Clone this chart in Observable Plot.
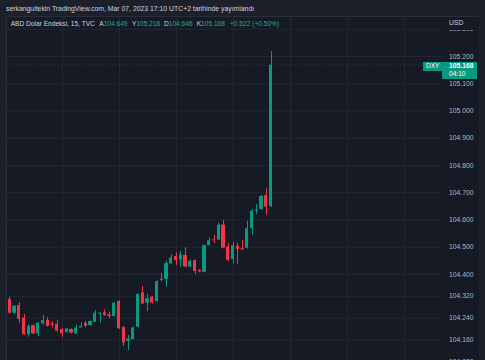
<!DOCTYPE html>
<html><head><meta charset="utf-8">
<script src="https://cdn.jsdelivr.net/npm/d3@7"></script>
<script src="https://cdn.jsdelivr.net/npm/@observablehq/plot@0.6"></script>
<style>
html,body{margin:0;padding:0;background:#1c202b;}
#wrap{position:relative;width:485px;height:360px;overflow:hidden;font-family:"Liberation Sans",Arial,sans-serif;}
#panel{position:absolute;left:6px;top:16px;width:472px;height:344px;background:#161a25;border-left:1px solid #2a2e39;border-top:1px solid #2a2e39;}
#wrap svg{position:absolute;left:0;top:0;}
.t{position:absolute;white-space:nowrap;line-height:1;}
</style></head><body><div id="wrap"><div id="panel"></div></div>
<script>
// 15-minute candles, DXY (TVC)
const open  = [104.308,104.258,104.286,104.240,104.179,104.212,104.182,104.219,104.231,104.218,104.217,104.197,104.188,104.198,104.182,104.204,104.220,104.213,104.225,104.254,104.259,104.252,104.246,104.301,104.205,104.155,104.161,104.207,104.333,104.295,104.317,104.301,104.378,104.382,104.439,104.466,104.454,104.470,104.428,104.451,104.415,104.408,104.506,104.527,104.527,104.581,104.501,104.455,104.503,104.494,104.497,104.568,104.632,104.639,104.690,104.649];
const high  = [104.316,104.286,104.297,104.253,104.215,104.215,104.224,104.249,104.241,104.228,104.231,104.202,104.202,104.200,104.215,104.223,104.228,104.229,104.268,104.262,104.270,104.262,104.297,104.303,104.209,104.176,104.205,104.328,104.356,104.327,104.319,104.376,104.405,104.449,104.472,104.478,104.485,104.499,104.454,104.454,104.417,104.508,104.534,104.543,104.588,104.598,104.515,104.518,104.515,104.525,104.596,104.637,104.656,104.690,104.714,105.218];
const low   = [104.255,104.253,104.221,104.176,104.170,104.180,104.172,104.214,104.207,104.204,104.188,104.170,104.185,104.182,104.180,104.203,104.204,104.211,104.224,104.221,104.246,104.237,104.244,104.198,104.136,104.121,104.160,104.204,104.290,104.264,104.292,104.299,104.372,104.353,104.437,104.433,104.427,104.425,104.425,104.400,104.407,104.407,104.504,104.513,104.526,104.494,104.448,104.439,104.437,104.488,104.494,104.543,104.620,104.635,104.617,104.646];
const close = [104.258,104.283,104.235,104.179,104.209,104.182,104.221,104.231,104.210,104.214,104.192,104.182,104.200,104.185,104.204,104.209,104.210,104.228,104.258,104.258,104.250,104.246,104.295,104.201,104.149,104.163,104.204,104.327,104.292,104.311,104.295,104.374,104.382,104.440,104.461,104.451,104.472,104.428,104.448,104.411,104.410,104.506,104.524,104.524,104.581,104.497,104.452,104.506,104.492,104.491,104.568,104.632,104.636,104.686,104.647,105.168];

const yTicks = [105.3,105.2,105.1,105.0,104.9,104.8,104.7,104.6,104.5,104.4,104.32,104.24,104.16,104.08];
const xGridTicks = [11,23,35,47,59,71,83];

const headerText = "serkangultekin TradingView.com, Mar 07, 2023 17:10 UTC+2 tarihinde yayımlandı";
const seriesName = "ABD Dolar Endeksi, 15, TVC";
const legendLabels = ["A","Y","D","K"];
const changeText = "+0.522 (+0.50%)";
const symbol = "DXY";
const countdown = "04:10";
const currency = "USD";

const G = "#089981", R = "#f23645";
const last = open.length - 1;
const data = open.map((o,i)=>({i, open:o, close:close[i], high:high[i], low:low[i], col: close[i]>=o ? G : R}));

const chart = Plot.plot({
  width:485, height:360, marginLeft:7, marginRight:42, marginTop:17, marginBottom:0,
  style:{background:"transparent", fontFamily:"Liberation Sans, Arial, sans-serif", overflow:"visible"},
  x:{domain:[-0.48,91.3], axis:null, round:true},
  y:{domain:[104.0844,105.3431], axis:null},
  color:{type:"identity"},
  marks:[
    Plot.gridY(yTicks,{stroke:"#232733", strokeOpacity:1}),
    Plot.gridX(xGridTicks,{stroke:"#232733", strokeOpacity:1}),
    Plot.ruleY([close[last]],{stroke:G, strokeOpacity:0.4, strokeDasharray:"1,2"}),
    Plot.ruleX(data,{x:"i", y1:"low", y2:"high", stroke:"col", strokeWidth:1}),
    Plot.rect(data,{x1:d=>d.i-0.35, x2:d=>d.i+0.35, y1:d=>Math.min(d.open,d.close), y2:d=>Math.max(d.open,d.close), fill:"col"}),
    Plot.axisY(yTicks,{anchor:"right", tickSize:0, tickPadding:5.5, tickFormat:d3.format(".3f"), fontSize:6.8, fill:"#b2b5be", label:null})
  ]
});
const wrap = document.getElementById("wrap");
wrap.appendChild(chart);

function addText(txt, x, yc, size, color, extra){
  const d = document.createElement("div");
  d.className = "t";
  d.textContent = txt;
  d.style.left = x + "px";
  d.style.top = (yc - size/2) + "px";
  d.style.fontSize = size + "px";
  d.style.color = color;
  if (extra) Object.assign(d.style, extra);
  wrap.appendChild(d);
  return d;
}
function addBox(x, y, w, h, bg){
  const d = document.createElement("div");
  d.style.cssText = `position:absolute;left:${x}px;top:${y}px;width:${w}px;height:${h}px;background:${bg};`;
  wrap.appendChild(d);
}

// header
addText(headerText, 6, 9, 6.85, "#d1d4dc");
// legend
addText(seriesName, 10.7, 24.3, 6.6, "#d1d4dc");
const lv = [open[last], high[last], low[last], close[last]].map(d3.format(".3f"));
const lx = [99.3, 132, 164, 196.7];
lv.forEach((v,k)=>{
  const d = addText("", lx[k], 24.3, 6.6, "#d1d4dc");
  d.innerHTML = legendLabels[k] + `<span style="color:#22ab94">${v}</span>`;
});
addText(changeText, 230, 24.3, 6.6, "#22ab94");

// USD box over axis top
addBox(443, 17, 35, 13, "#161a25");
addText(currency, 449, 23.3, 6.8, "#d1d4dc");

// last price labels
const yp = chart.scale("y").apply(close[last]);
addBox(423.3, yp-3, 18.4, 9, G);
addText(symbol, 426, yp+1.3, 6.5, "#ffffff");
addBox(442.3, yp-3, 34.4, 17.6, G);
addText(d3.format(".3f")(close[last]), 449, yp+2, 6.8, "#ffffff", {fontWeight:"bold"});
addText(countdown, 449, yp+9.6, 6.6, "#ffffff");
</script></body></html>
